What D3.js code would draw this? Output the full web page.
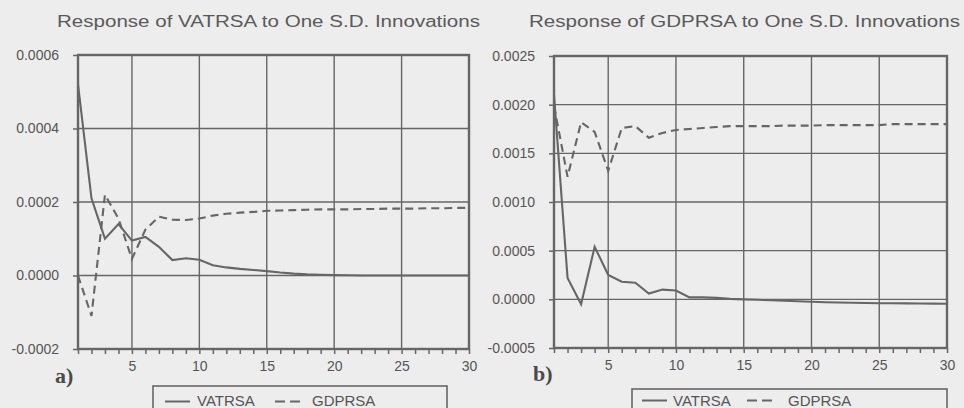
<!DOCTYPE html>
<html><head><meta charset="utf-8">
<script src="https://cdn.jsdelivr.net/npm/d3@7"></script>
<style>
html,body{margin:0;padding:0;background:#ededed;}
svg{display:block;}
</style></head><body>
<svg id="chart" width="964" height="408"></svg>
<script>
// Impulse-response horizons
const periods = [1,2,3,4,5,6,7,8,9,10,11,12,13,14,15,16,17,18,19,20,21,22,23,24,25,26,27,28,29,30];

// Panel a) response of VATRSA
const vatOnVat = [0.00052,0.00021,0.00010,0.00014,0.000095,0.000105,0.000078,0.000042,0.000047,0.000043,
  0.000028,0.000022,0.000018,0.000015,0.000012,0.000008,0.000005,0.000003,0.000002,0.000001,
  0.0000005,0,0,0,0,0,0,0,0,0];
const gdpOnVat = [0.0,-0.00011,0.00022,0.000155,0.000045,0.000125,0.00016,0.000152,0.000151,0.000155,
  0.000163,0.000168,0.000171,0.000173,0.000176,0.000177,0.000178,0.000179,0.00018,0.00018,
  0.00018,0.000181,0.000181,0.000182,0.000182,0.000182,0.000183,0.000183,0.000184,0.000184];

// Panel b) response of GDPRSA
const vatOnGdp = [0.0021,0.00022,-0.00005,0.00054,0.00025,0.00018,0.00017,0.00006,0.0001,0.00009,
  0.00002,0.00002,0.000015,0.000005,0.0,-0.000005,-0.00001,-0.000015,-0.00002,-0.000025,
  -0.00003,-0.000032,-0.000035,-0.000037,-0.00004,-0.00004,-0.000042,-0.000043,-0.000044,-0.000045];
const gdpOnGdp = [0.00199,0.00126,0.00182,0.00172,0.00132,0.00176,0.00178,0.00166,0.00171,0.00174,
  0.00175,0.00176,0.00177,0.00178,0.00178,0.00178,0.00178,0.001785,0.001785,0.001785,
  0.00179,0.00179,0.00179,0.00179,0.00179,0.0018,0.0018,0.0018,0.0018,0.0018];

const xTicks = [5,10,15,20,25,30];
const yTicksA = [-0.0002,0.0,0.0002,0.0004,0.0006];
const yTicksB = [-0.0005,0.0,0.0005,0.0010,0.0015,0.0020,0.0025];
const seriesNames = ["VATRSA","GDPRSA"];
const titles = ["Response of VATRSA to One S.D. Innovations","Response of GDPRSA to One S.D. Innovations"];
const panelTags = ["a)","b)"];

const ink = "#666";
const sans = "Liberation Sans, Arial, sans-serif";
const fmt = d3.formatLocale({decimal:".",thousands:",",grouping:[3],currency:["",""],minus:"-"}).format(".4f");
const svg = d3.select("#chart");

const panels = [
  {x0:78, x1:469, y0:55, y1:349, dom:[-0.0002,0.0006], ticks:yTicksA, vat:vatOnVat, gdp:gdpOnVat,
   title:titles[0], titleX:57, titleW:423, tag:panelTags[0], tagX:55, tagY:383,
   leg:{x:153, w:294, y:386, solid:[165,190], ly:401.5, t1:197, dash:[275,300], t2:312}},
  {x0:554, x1:947, y0:56, y1:348, dom:[-0.0005,0.0025], ticks:yTicksB, vat:vatOnGdp, gdp:gdpOnGdp,
   title:titles[1], titleX:529, titleW:431, tag:panelTags[1], tagX:533, tagY:381,
   leg:{x:632, w:315, y:389, solid:[642,667], ly:400.5, t1:673, dash:[747,772], t2:788}}
];

panels.forEach(p => {
  const g = svg.append("g");
  const x = d3.scaleLinear().domain([1,30]).range([p.x0,p.x1]);
  const y = d3.scaleLinear().domain(p.dom).range([p.y1,p.y0]);

  // title
  g.append("text").attr("x",p.titleX).attr("y",26.5)
    .attr("textLength",p.titleW).attr("lengthAdjust","spacingAndGlyphs")
    .attr("font-family",sans).attr("font-size",16)
    .attr("fill","#5a5a5a").text(p.title);

  // grid
  g.selectAll(".hg").data(p.ticks).join("line")
    .attr("x1",p.x0).attr("x2",p.x1).attr("y1",d=>y(d)).attr("y2",d=>y(d))
    .attr("stroke",ink).attr("stroke-width",1.4);
  g.selectAll(".vg").data(xTicks.slice(0,-1)).join("line")
    .attr("x1",d=>x(d)).attr("x2",d=>x(d)).attr("y1",p.y0).attr("y2",p.y1)
    .attr("stroke",ink).attr("stroke-width",1.4);

  // axes
  const ya = d3.axisLeft(y).tickValues(p.ticks).tickFormat(fmt).tickSize(5).tickSizeOuter(0).tickPadding(14);
  const yg = g.append("g").attr("transform",`translate(${p.x0},0)`).call(ya);
  const xa = d3.axisBottom(x).tickValues(periods).tickFormat(d => xTicks.includes(d) ? d : "")
    .tickSize(5).tickSizeOuter(0).tickPadding(7);
  const xg = g.append("g").attr("transform",`translate(0,${p.y1})`).call(xa);
  [yg,xg].forEach(a => {
    a.select(".domain").remove();
    a.selectAll("line").attr("stroke",ink).attr("stroke-width",1.5);
    a.selectAll("text").attr("font-family",sans).attr("font-size",14).attr("fill","#555");
  });

  // frame
  g.append("rect").attr("x",p.x0).attr("y",p.y0).attr("width",p.x1-p.x0).attr("height",p.y1-p.y0)
    .attr("fill","none").attr("stroke",ink).attr("stroke-width",2.4);

  // response lines
  const line = vals => d3.line().x((d,i)=>x(periods[i])).y(d=>y(d))(vals);
  g.append("path").attr("d",line(p.gdp)).attr("fill","none").attr("stroke",ink)
    .attr("stroke-width",2.1).attr("stroke-dasharray","8,5");
  g.append("path").attr("d",line(p.vat)).attr("fill","none").attr("stroke",ink)
    .attr("stroke-width",2.1);

  // panel tag
  g.append("text").attr("x",p.tagX).attr("y",p.tagY)
    .attr("font-family","Liberation Serif, Times New Roman, serif").attr("font-weight","bold")
    .attr("font-size",22).attr("fill","#4a4a4a").text(p.tag);

  // legend
  const L = p.leg;
  g.append("rect").attr("x",L.x).attr("y",L.y).attr("width",L.w).attr("height",40)
    .attr("fill","none").attr("stroke",ink).attr("stroke-width",1.6);
  g.append("line").attr("x1",L.solid[0]).attr("x2",L.solid[1]).attr("y1",L.ly).attr("y2",L.ly)
    .attr("stroke",ink).attr("stroke-width",2);
  g.append("line").attr("x1",L.dash[0]).attr("x2",L.dash[1]).attr("y1",L.ly).attr("y2",L.ly)
    .attr("stroke",ink).attr("stroke-width",2).attr("stroke-dasharray","10,5");
  [[L.t1,seriesNames[0]],[L.t2,seriesNames[1]]].forEach(([tx,name]) =>
    g.append("text").attr("x",tx).attr("y",405.5)
      .attr("font-family",sans).attr("font-size",15)
      .attr("fill","#555").text(name));
});
</script>
</body></html>
